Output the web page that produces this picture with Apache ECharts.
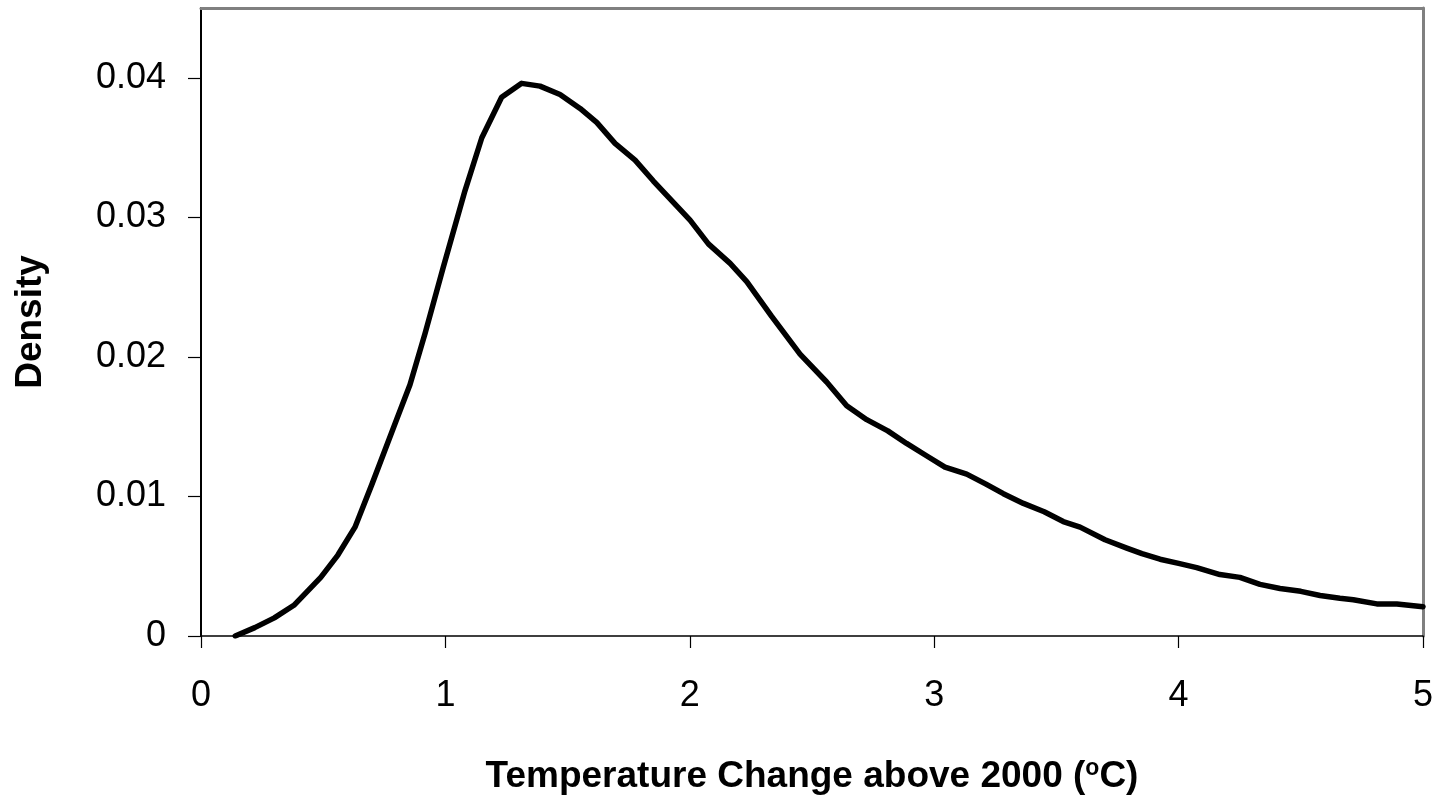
<!DOCTYPE html>
<html>
<head>
<meta charset="utf-8">
<title>Temperature Change Density</title>
<script src="https://cdn.jsdelivr.net/npm/echarts@6/dist/echarts.min.js"></script>
<style>
  html, body { margin: 0; padding: 0; background: #fff; }
  #chart { width: 1443px; height: 800px; }
</style>
</head>
<body>
<div id="chart"></div>
<script>
// Temperature change above 2000 (°C)
const temperature = [
  0.14, 0.22, 0.30, 0.38, 0.49, 0.56, 0.63, 0.70, 0.80, 0.855,
  0.917, 0.991, 1.080, 1.149, 1.230, 1.312, 1.387, 1.469, 1.551, 1.619,
  1.694, 1.776, 1.851, 1.926, 2.001, 2.076, 2.165, 2.233, 2.335, 2.451,
  2.560, 2.642, 2.724, 2.810, 2.887, 2.970, 3.044, 3.133, 3.210, 3.283,
  3.365, 3.450, 3.528, 3.597, 3.699, 3.788, 3.850, 3.924, 4.000, 4.074,
  4.169, 4.251, 4.333, 4.415, 4.500, 4.579, 4.660, 4.715, 4.811, 4.893,
  5.000
];

// Probability density at each temperature
const density = [
  0.0000, 0.0006, 0.0013, 0.0022, 0.0042, 0.0058, 0.0078, 0.0109, 0.0155, 0.0180,
  0.0217, 0.0264, 0.0319, 0.0357, 0.0386, 0.0396, 0.0394, 0.0388, 0.0378, 0.0368,
  0.0353, 0.0341, 0.0326, 0.0312, 0.0298, 0.0281, 0.0267, 0.0254, 0.0229, 0.0202,
  0.0182, 0.0165, 0.0155, 0.0147, 0.0138, 0.0129, 0.0121, 0.0116, 0.0109, 0.0102,
  0.0095, 0.0089, 0.0082, 0.0078, 0.0069, 0.0063, 0.0059, 0.0055, 0.0052, 0.0049,
  0.0044, 0.0042, 0.0037, 0.0034, 0.0032, 0.0029, 0.0027, 0.0026, 0.0023, 0.0023,
  0.0021
];

const xTicks = [0, 1, 2, 3, 4, 5];
const yTicks = [0, 0.01, 0.02, 0.03, 0.04];

const points = temperature.map((t, i) => [t, density[i]]);

const FONT = '"Liberation Sans", Arial, sans-serif';
const TICK_SIZE = 36;
const TITLE_SIZE = 37;

const chart = echarts.init(document.getElementById('chart'), null, { renderer: 'canvas' });

chart.setOption({
  animation: false,
  backgroundColor: '#ffffff',
  grid: { left: 201, right: 20, top: 8, bottom: 164, containLabel: false },
  xAxis: [
    {
      type: 'value',
      position: 'bottom',
      min: 0,
      max: 5,
      interval: 1,
      name: '{t|Temperature Change above 2000 (}{s|o}{t|C)}',
      nameLocation: 'middle',
      nameGap: 121,
      nameTextStyle: {
        rich: {
          t: { fontFamily: FONT, fontSize: TITLE_SIZE, fontWeight: 'bold', color: '#000' },
          s: { fontFamily: FONT, fontSize: 23, fontWeight: 'bold', color: '#000', verticalAlign: 'top', padding: [0, 0, 16, 0] }
        }
      },
      axisLine: { show: true, onZero: false, lineStyle: { color: '#000', width: 1.5 } },
      axisTick: { show: true, inside: false, length: 12, lineStyle: { color: '#000', width: 1.2 } },
      axisLabel: {
        margin: 42,
        fontFamily: FONT,
        fontSize: TICK_SIZE,
        color: '#000',
        customValues: xTicks,
        formatter: v => String(v)
      },
      splitLine: { show: false }
    },
    {
      type: 'value',
      position: 'top',
      min: 0,
      max: 5,
      axisLine: { show: true, onZero: false, lineStyle: { color: '#808080', width: 3 } },
      axisTick: { show: false },
      axisLabel: { show: false },
      splitLine: { show: false }
    }
  ],
  yAxis: [
    {
      type: 'value',
      position: 'left',
      min: 0,
      max: 0.045,
      interval: 0.01,
      name: 'Density',
      nameLocation: 'middle',
      nameGap: 152,
      nameRotate: 90,
      nameTextStyle: { fontFamily: FONT, fontSize: TITLE_SIZE, fontWeight: 'bold', color: '#000' },
      axisLine: { show: true, onZero: false, lineStyle: { color: '#000', width: 2 } },
      axisTick: {
        show: true, inside: false, length: 13,
        customValues: yTicks,
        lineStyle: { color: '#000', width: 1.2 }
      },
      axisLabel: {
        margin: 35,
        fontFamily: FONT,
        fontSize: TICK_SIZE,
        color: '#000',
        customValues: yTicks,
        formatter: v => (v === 0 ? '0' : v.toFixed(2))
      },
      splitLine: { show: false }
    },
    {
      type: 'value',
      position: 'right',
      min: 0,
      max: 0.045,
      axisLine: { show: true, onZero: false, lineStyle: { color: '#808080', width: 3 } },
      axisTick: { show: false },
      axisLabel: { show: false },
      splitLine: { show: false }
    }
  ],
  series: [
    {
      type: 'line',
      xAxisIndex: 0,
      yAxisIndex: 0,
      data: points,
      showSymbol: false,
      smooth: false,
      clip: true,
      lineStyle: { color: '#000', width: 5.5, join: 'round', cap: 'round' }
    }
  ]
});
</script>
</body>
</html>
